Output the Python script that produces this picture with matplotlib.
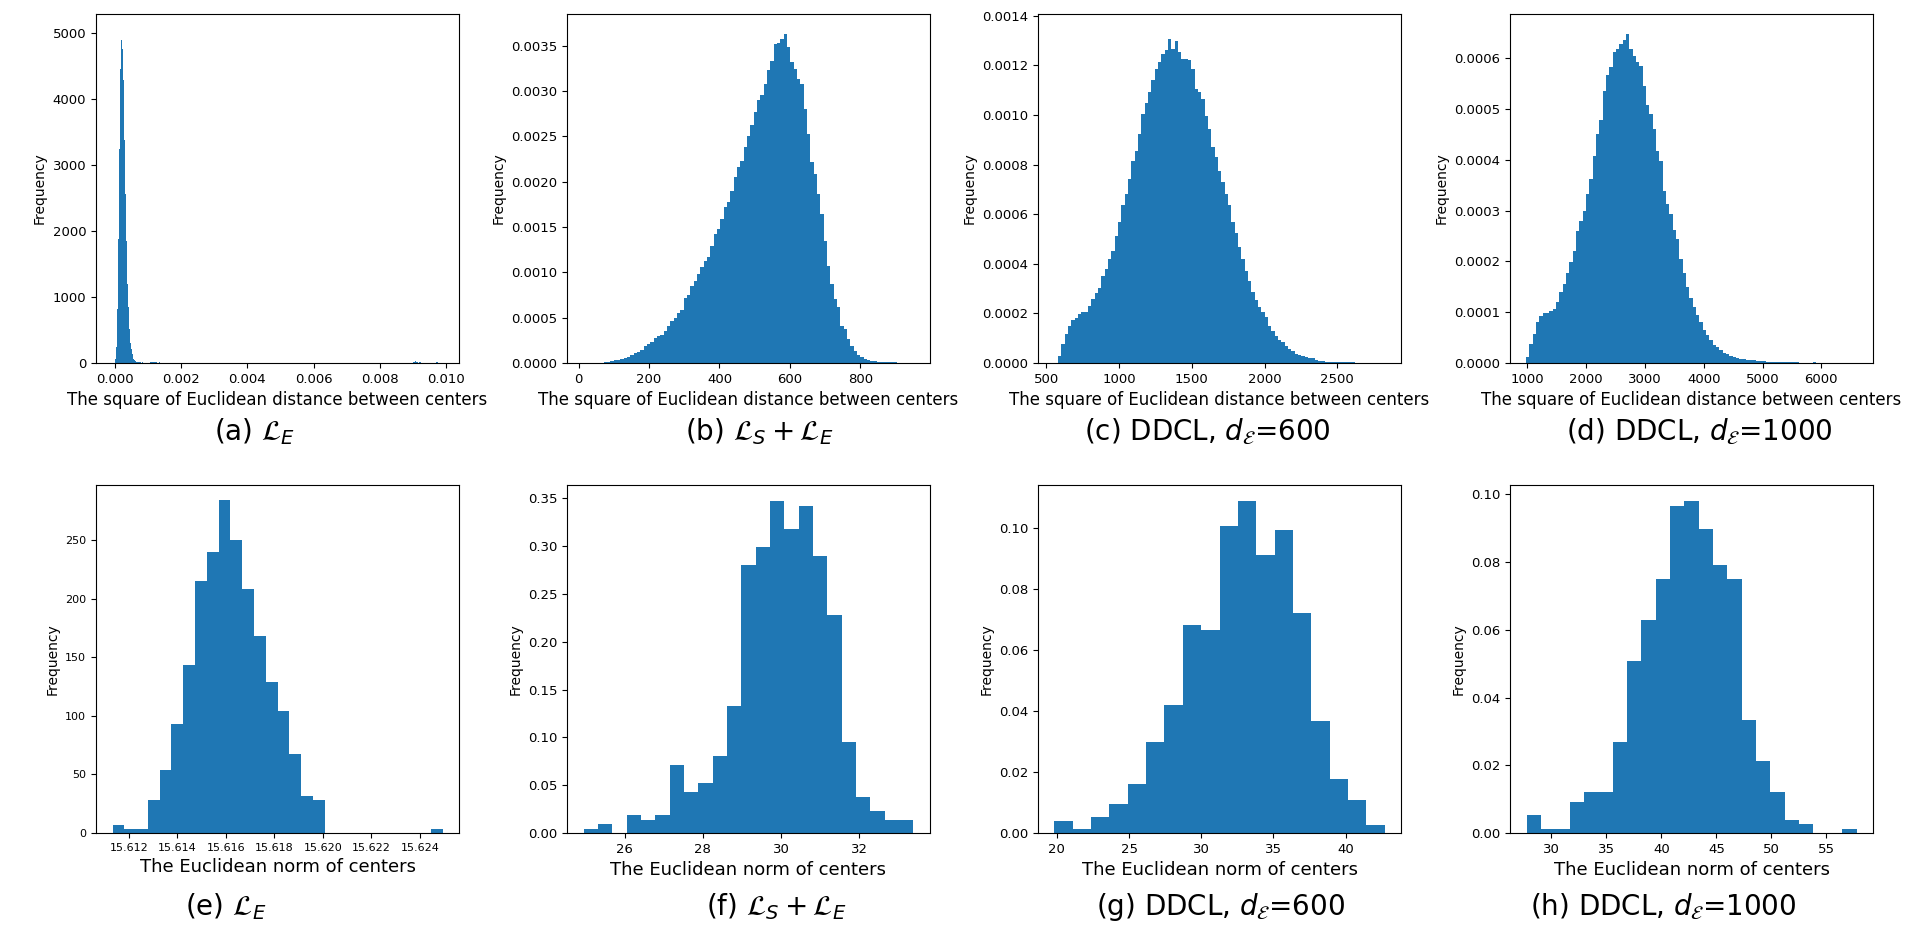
import numpy as np
import matplotlib
matplotlib.use("Agg")
import matplotlib.pyplot as plt

# ---- top row: square of Euclidean distance between centers ----
# (a) L_E : counts, narrow bins starting at 0
a_start, a_width = 0.0, 0.00003
a_counts = [60, 237, 817, 1876, 3238, 4448, 4887, 4750, 4281, 3374, 2557, 1851,
            1195, 852, 514, 307, 212, 131, 65, 50, 35, 20, 20, 10, 10, 10, 5, 10,
            0, 0, 0, 0, 0, 0, 0, 10, 10, 10, 10, 10, 10, 10, 0, 0, 10]
a_tail_start, a_tail_width = 0.0090, 0.00005
a_tail_counts = [20, 25, 10, 0, 10, 0, 0, 0, 0, 0, 0, 0, 0, 0, 10]

# (b) L_S + L_E : density (x1e-4)
b_range = (71.0, 904.4)
b_vals = [0.07, 0.15, 0.18, 0.33, 0.37, 0.48, 0.59, 0.66, 0.92, 1.07, 1.18, 1.43,
          1.91, 2.10, 2.32, 2.72, 2.98, 3.05, 3.57, 4.12, 4.60, 4.97, 5.52, 5.85,
          7.17, 7.51, 8.54, 9.09, 9.82, 10.56, 11.30, 11.66, 12.95, 14.24, 14.79,
          15.89, 17.26, 17.73, 19.02, 20.57, 21.60, 22.33, 23.88, 25.09, 26.20,
          27.67, 29.03, 29.51, 30.79, 32.27, 33.37, 35.21, 35.28, 35.76, 36.31,
          34.84, 33.19, 32.45, 31.35, 30.79, 28.04, 25.28, 22.15, 20.86, 18.65,
          16.45, 13.50, 10.74, 8.72, 7.06, 6.14, 4.12, 3.75, 2.65, 1.91, 1.29,
          0.92, 0.63, 0.48, 0.37, 0.26, 0.18, 0.15, 0.07, 0.07, 0.11, 0.11, 0.07]

# (c) DDCL d=600 : density (x1e-5)
c_range = (580.2, 2619.0)
c_vals = [3.0, 7.7, 11.7, 15.1, 17.5, 18.1, 19.8, 20.7, 20.4, 22.8, 25.8, 28.1,
          30.2, 35.2, 37.9, 42.0, 45.0, 51.4, 56.7, 63.5, 68.2, 74.2, 81.6, 85.3,
          92.4, 100.4, 104.7, 109.2, 113.9, 118.6, 121.2, 124.4, 126.0, 130.7,
          126.6, 130.0, 125.3, 122.6, 122.6, 122.2, 118.6, 110.5, 109.2, 106.5,
          99.7, 94.4, 87.0, 82.9, 77.6, 72.9, 68.2, 63.5, 56.7, 52.3, 46.7, 42.0,
          37.2, 33.2, 28.5, 25.4, 22.5, 20.4, 18.4, 15.1, 13.1, 11.0, 9.3, 8.4,
          7.0, 5.7, 4.7, 3.6, 3.3, 2.9, 2.6, 1.9, 1.9, 1.4, 1.0, 0.8, 0.6, 0.5,
          0.5, 0.4, 0.4, 0.4, 0.3, 0.3, 0.3]

# (d) DDCL d=1000 : density (x1e-5)
d_range = (977.3, 5909.0)
d_vals = [1.2, 3.7, 5.7, 8.0, 9.3, 9.8, 9.8, 10.3, 10.6, 12.1, 13.9, 15.6, 17.8,
          19.8, 22.1, 26.0, 28.0, 30.0, 33.3, 36.2, 40.8, 45.1, 47.8, 53.6, 56.6,
          58.2, 61.2, 61.8, 62.8, 63.5, 64.8, 61.8, 60.5, 59.2, 58.5, 54.6, 50.7,
          49.0, 46.1, 41.7, 39.8, 33.9, 31.3, 29.3, 26.2, 24.4, 20.5, 17.8, 14.9,
          12.8, 11.0, 9.4, 8.0, 6.5, 5.5, 4.5, 3.6, 3.1, 2.6, 2.0, 1.7, 1.4, 1.2,
          0.9, 0.8, 0.7, 0.6, 0.5, 0.5, 0.3, 0.3, 0.3, 0.2, 0.2, 0.2, 0.1, 0.1,
          0.2, 0.1, 0.1, 0.1, 0.1, 0.05, 0.05, 0.0, 0.0, 0.2]

# ---- bottom row: Euclidean norm of centers ----
e_range = (15.61133, 15.62493)
e_counts = [7, 3, 3, 28, 54, 93, 143, 215, 240, 284, 250, 208, 168, 129, 104, 67,
            32, 28, 0, 0, 0, 0, 0, 0, 0, 0, 0, 3]
f_range = (24.949, 33.385)
f_vals = [0.0042, 0.0094, 0.0, 0.0188, 0.0136, 0.0188, 0.0711, 0.0429, 0.0523,
          0.0805, 0.1328, 0.2803, 0.2991, 0.3472, 0.3179, 0.3420, 0.2897, 0.2280,
          0.0952, 0.0376, 0.0230, 0.0136, 0.0136]
g_range = (19.84, 42.69)
g_vals = [0.0039, 0.0013, 0.0053, 0.0096, 0.0162, 0.0299, 0.0421, 0.0681, 0.0666,
          0.1008, 0.1090, 0.0912, 0.0995, 0.0722, 0.0368, 0.0177, 0.0108, 0.0026]
h_range = (27.73, 57.73)
h_vals = [0.0053, 0.0012, 0.0012, 0.0092, 0.0121, 0.0121, 0.0269, 0.0508, 0.0629,
          0.0750, 0.0966, 0.0980, 0.0898, 0.0791, 0.0750, 0.0334, 0.0213, 0.0121,
          0.0038, 0.0027, 0.0, 0.0, 0.0012]

top_xlabel = "The square of Euclidean distance between centers"
bottom_xlabel = "The Euclidean norm of centers"
captions_top = [r"(a) $\mathcal{L}_E$", r"(b) $\mathcal{L}_S+\mathcal{L}_E$",
                r"(c) DDCL, $d_\mathcal{E}$=600", r"(d) DDCL, $d_\mathcal{E}$=1000"]
captions_bottom = [r"(e) $\mathcal{L}_E$", r"(f) $\mathcal{L}_S+\mathcal{L}_E$",
                   r"(g) DDCL, $d_\mathcal{E}$=600", r"(h) DDCL, $d_\mathcal{E}$=1000"]


def draw_hist(ax, lo, hi, values, scale=1.0):
    edges = np.linspace(lo, hi, len(values) + 1)
    # stepfilled: one polygon, so no white seams between neighbouring bins
    ax.hist(edges[:-1], bins=edges, weights=np.array(values) * scale,
            histtype="stepfilled", color="C0", linewidth=0)


fig = plt.figure(figsize=(19.2, 9.47), dpi=100)
lefts = [96, 567, 1038, 1510]
W, H = 1920, 947


def make_ax(left_px, top_px, bottom_px):
    return fig.add_axes([left_px / W, (H - bottom_px) / H, 363 / W, (bottom_px - top_px) / H])


top_axes = [make_ax(l, 14, 363) for l in lefts]
bot_axes = [make_ax(l, 485, 833) for l in lefts]

# (a)
ax = top_axes[0]
draw_hist(ax, a_start, a_start + a_width * len(a_counts), a_counts)
draw_hist(ax, a_tail_start, a_tail_start + a_tail_width * len(a_tail_counts), a_tail_counts)
ax.set_xlim(-0.000576, 0.010394)
ax.set_ylim(0, 5280)
ax.set_xticks([0.0, 0.002, 0.004, 0.006, 0.008, 0.010])

# (b)
ax = top_axes[1]
draw_hist(ax, *b_range, b_vals, 1e-4)
ax.set_xlim(-33, 998)
ax.set_ylim(0, 0.00385)

# (c)
ax = top_axes[2]
draw_hist(ax, *c_range, c_vals, 1e-5)
ax.set_xlim(443, 2938)
ax.set_ylim(0, 0.001407)

# (d)
ax = top_axes[3]
draw_hist(ax, *d_range, d_vals, 1e-5)
ax.set_xlim(705, 6879)
ax.set_ylim(0, 0.000687)

for ax in top_axes:
    ax.set_xlabel(top_xlabel, fontsize=12)
    ax.set_ylabel("Frequency", fontsize=10)
    ax.tick_params(labelsize=9.5)

# bottom row
draw_hist(bot_axes[0], *e_range, e_counts)
bot_axes[0].set_xlim(15.61065, 15.62561)
bot_axes[0].set_ylim(0, 297)
bot_axes[0].ticklabel_format(useOffset=False, axis="x")
bot_axes[0].tick_params(labelsize=8)
draw_hist(bot_axes[1], *f_range, f_vals)
bot_axes[1].set_xlim(24.527, 33.807)
bot_axes[1].set_ylim(0, 0.364)
draw_hist(bot_axes[2], *g_range, g_vals)
bot_axes[2].set_xlim(18.70, 43.83)
bot_axes[2].set_ylim(0, 0.1142)
draw_hist(bot_axes[3], *h_range, h_vals)
bot_axes[3].set_xlim(26.23, 59.23)
bot_axes[3].set_ylim(0, 0.1028)

for i, ax in enumerate(bot_axes):
    ax.set_xlabel(bottom_xlabel, fontsize=13)
    ax.set_ylabel("Frequency", fontsize=10)
    if i > 0:
        ax.tick_params(labelsize=9.5)

cap_top_x = [255, 759, 1207, 1699]
cap_bot_x = [226, 776, 1220, 1663]
for x, c in zip(cap_top_x, captions_top):
    fig.text(x / W, (H - 432) / H, c, fontsize=20, ha="center", va="center")
for x, c in zip(cap_bot_x, captions_bottom):
    fig.text(x / W, (H - 907) / H, c, fontsize=20, ha="center", va="center")

fig.savefig("out.png", dpi=100)
